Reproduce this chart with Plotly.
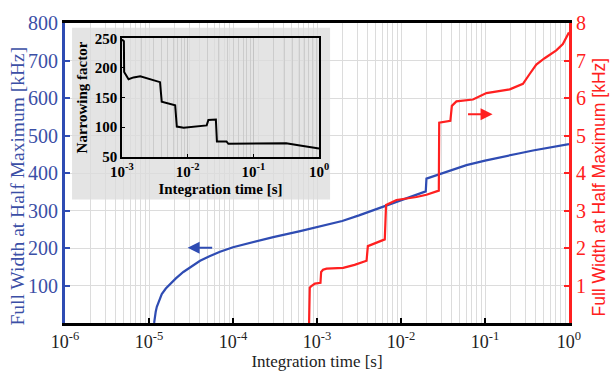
import plotly.graph_objects as go

# ---------------- data ----------------
blue_t = [1.151e-5, 1.175e-5, 1.202e-5, 1.239e-5, 1.318e-5, 1.419e-5, 1.585e-5, 1.782e-5,
          2.089e-5, 2.564e-5, 3.162e-5, 4.055e-5, 5.248e-5, 7.0e-5, 1.0e-4, 1.585e-4,
          3.013e-4, 6.31e-4, 1.081e-3, 1.995e-3, 3.162e-3, 5.012e-3, 6.714e-3, 1.0e-2,
          1.274e-2, 1.585e-2, 1.972e-2, 2.009e-2, 2.767e-2, 3.802e-2, 6.012e-2, 0.1,
          0.1496, 0.2512, 0.3724, 0.631, 1.0]
blue_fwhm = [0, 18, 30, 43, 60, 77, 92, 104,
             119, 136, 150, 166, 178, 190, 202, 214,
             229, 245, 258, 272, 287, 303, 315, 328,
             336, 344, 351, 385, 396, 406, 421, 433,
             442, 452, 460, 468, 477]

red_t = [8.05e-4, 8.2e-4, 8.5e-4, 9.44e-4, 1.10e-3, 1.12e-3, 1.18e-3, 1.30e-3, 2.05e-3,
         2.8e-3, 3.89e-3, 4.03e-3, 6.41e-3, 6.64e-3, 8.83e-3, 1.53e-2, 2.01e-2, 2.64e-2,
         2.82e-2, 2.85e-2, 3.87e-2, 4.03e-2, 4.57e-2, 7.19e-2, 0.104, 0.197, 0.283,
         0.340, 0.408, 0.513, 0.706, 0.845, 1.0]
red_fwhm = [0, 0.94, 0.98, 1.05, 1.07, 1.36, 1.42, 1.45, 1.47,
            1.55, 1.66, 2.05, 2.23, 3.15, 3.28, 3.36, 3.42, 3.51,
            3.53, 5.34, 5.39, 5.79, 5.91, 5.96, 6.13, 6.23, 6.38,
            6.64, 6.89, 7.06, 7.27, 7.44, 7.75]

narrow_t = [1.0e-3, 1.07e-3, 1.08e-3, 1.15e-3, 1.26e-3, 1.5e-3, 1.9e-3, 3.8e-3, 4.03e-3,
            6.46e-3, 6.84e-3, 8.7e-3, 1.95e-2, 2.07e-2, 2.69e-2, 2.79e-2, 3.9e-2, 4.17e-2,
            0.126, 0.316, 0.513, 1.0]
narrow_factor = [248, 245, 193, 188, 181, 184, 186, 176, 143,
                 137, 101, 99, 103, 112, 113, 76, 76, 72,
                 73, 73, 69, 64]

x_tickvals = [1e-6, 1e-5, 1e-4, 1e-3, 1e-2, 1e-1, 1e0]
x_ticktext = ["10<sup>-6</sup>", "10<sup>-5</sup>", "10<sup>-4</sup>", "10<sup>-3</sup>",
              "10<sup>-2</sup>", "10<sup>-1</sup>", "10<sup>0</sup>"]
yl_tickvals = [100, 200, 300, 400, 500, 600, 700, 800]
yr_tickvals = [1, 2, 3, 4, 5, 6, 7, 8]
inset_xtickvals = [1e-3, 1e-2, 1e-1, 1e0]
inset_xticktext = ["10<sup>-3</sup>", "10<sup>-2</sup>", "10<sup>-1</sup>", "10<sup>0</sup>"]
inset_ytickvals = [50, 100, 150, 200, 250]
y_title = "Full Width at Half Maximum [kHz]"

# arrow annotations (log10 x, y value)
blue_arrow = dict(x_from=-4.23, x_to=-4.54, y=201)
red_arrow = dict(x_from=-1.22, x_to=-0.91, y=5.57)

# ---------------- style ----------------
BLUE = "#2f4cb3"
BLUE_TXT = "#3b4fa6"
RED = "#ff2020"
GRID = "#dcdcdc"
SERIF = "Liberation Serif"
SANS = "Liberation Sans"

minor_main = [k * 10.0 ** e for e in range(-6, 0) for k in range(2, 10)]
minor_inset = [k * 10.0 ** e for e in range(-3, 0) for k in range(2, 10)]

fig = go.Figure()
fig.add_trace(go.Scatter(x=blue_t, y=blue_fwhm, mode="lines", line=dict(color=BLUE, width=2.2),
                         xaxis="x", yaxis="y", showlegend=False))
fig.add_trace(go.Scatter(x=red_t, y=red_fwhm, mode="lines", line=dict(color=RED, width=2.2),
                         xaxis="x", yaxis="y2", showlegend=False))
fig.add_trace(go.Scatter(x=narrow_t, y=narrow_factor, mode="lines", line=dict(color="black", width=2),
                         xaxis="x2", yaxis="y3", showlegend=False))

fig.update_layout(
    width=611, height=380,
    margin=dict(l=65, r=42, t=12, b=56),
    paper_bgcolor="white",
    plot_bgcolor="rgba(0,0,0,0)",
    xaxis=dict(type="log", range=[-6, 0], domain=[0, 1], anchor="y",
               tickvals=x_tickvals, ticktext=x_ticktext,
               tickfont=dict(family=SERIF, size=18, color="#222"),
               ticks="inside", ticklen=5, tickwidth=1.5, tickcolor="black",
               showline=True, linecolor="black", linewidth=3, mirror=True,
               showgrid=True, gridcolor=GRID, gridwidth=1,
               minor=dict(tickvals=minor_main, showgrid=True, gridcolor=GRID, gridwidth=1, ticks=""),
               title=dict(text="Integration time [s]", font=dict(family=SERIF, size=17, color="#222"),
                          standoff=5),
               zeroline=False),
    yaxis=dict(range=[0, 800], tickvals=yl_tickvals,
               tickfont=dict(family=SERIF, size=20, color=BLUE_TXT),
               ticks="inside", ticklen=5, tickwidth=1.5, tickcolor=BLUE,
               showline=True, linecolor=BLUE, linewidth=3,
               showgrid=True, gridcolor=GRID, zeroline=False),
    yaxis2=dict(range=[0, 8], tickvals=yr_tickvals, overlaying="y", side="right", anchor="x",
                tickfont=dict(family=SERIF, size=20, color=RED),
                ticks="inside", ticklen=5, tickwidth=1.5, tickcolor=RED,
                showline=True, linecolor=RED, linewidth=3,
                showgrid=False, zeroline=False),
    xaxis2=dict(type="log", range=[-3, 0], domain=[0.113, 0.504], anchor="y3",
                tickvals=inset_xtickvals, ticktext=inset_xticktext,
                tickfont=dict(family=SERIF, size=15, color="black", weight="bold"),
                ticks="inside", ticklen=3, tickcolor="black",
                showline=True, linecolor="black", linewidth=1.5, mirror=True,
                showgrid=True, gridcolor="#c4c4c4",
                minor=dict(tickvals=minor_inset, showgrid=True, gridcolor="#cccccc", ticks=""),
                title=dict(text="Integration time [s]", standoff=5,
                           font=dict(family=SERIF, size=15, color="black", weight="bold")),
                zeroline=False),
    yaxis3=dict(range=[50, 250], domain=[0.554, 0.949], anchor="x2",
                tickvals=inset_ytickvals,
                tickfont=dict(family=SERIF, size=15, color="black", weight="bold"),
                ticks="inside", ticklen=3, tickcolor="black",
                showline=True, linecolor="black", linewidth=1.5, mirror=True,
                showgrid=False, zeroline=False,
                title=dict(text="Narrowing factor", standoff=3,
                           font=dict(family=SERIF, size=15, color="black", weight="bold"))),
    shapes=[dict(type="rect", xref="paper", yref="paper", x0=0.014, x1=0.526, y0=0.412, y1=0.984,
                 fillcolor="#e4e4e4", line=dict(width=0), layer="below")],
    annotations=[
        dict(x=blue_arrow["x_to"], y=blue_arrow["y"], ax=blue_arrow["x_from"], ay=blue_arrow["y"],
             xref="x", yref="y", axref="x", ayref="y", text="", showarrow=True,
             arrowhead=2, arrowsize=1.2, arrowwidth=2, arrowcolor=BLUE),
        dict(x=red_arrow["x_to"], y=red_arrow["y"], ax=red_arrow["x_from"], ay=red_arrow["y"],
             xref="x", yref="y2", axref="x", ayref="y2", text="", showarrow=True,
             arrowhead=2, arrowsize=1.2, arrowwidth=2, arrowcolor=RED),
        dict(x=-0.095, y=0.455, xref="paper", yref="paper", text=y_title, textangle=-90,
             showarrow=False, xanchor="center", yanchor="middle",
             font=dict(family=SERIF, size=19.5, color=BLUE_TXT)),
        dict(x=1.0615, y=0.455, xref="paper", yref="paper", text=y_title, textangle=-90,
             showarrow=False, xanchor="center", yanchor="middle",
             font=dict(family=SANS, size=17.5, color=RED)),
    ],
)

fig.write_html("out.html")
